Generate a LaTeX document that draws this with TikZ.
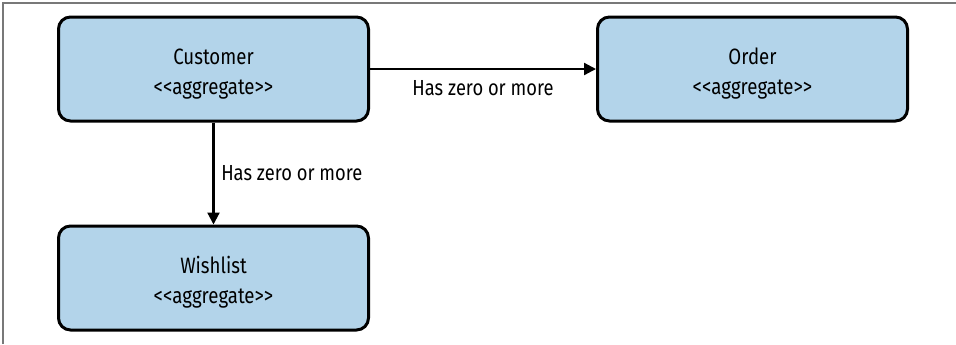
\documentclass[tikz,border=0pt]{standalone}
\usepackage{fontspec}
\setmainfont[FakeStretch=0.84]{Fira Sans}
\usepackage{tikz}
\usetikzlibrary{arrows.meta}
\definecolor{aggfill}{RGB}{179,212,234}
\definecolor{framegray}{RGB}{120,120,120}
\newcommand{\stereotype}[1]{{<}{<}#1{>}{>}}
\tikzset{
  aggbox/.style={draw, line width=1.5pt, fill=aggfill, rounded corners=6pt,
    minimum width=155pt, minimum height=52pt, align=center,
    text height=25pt, text depth=0pt,
    font=\fontsize{11.1}{15}\selectfont},
  rel/.style={line width=1.1pt, -{Triangle[length=6pt,width=6pt]}},
  rellabel/.style={font=\fontsize{10.9}{13}\selectfont}
}
\begin{document}
\begin{tikzpicture}[x=0.5pt,y=-0.5pt]
  \useasboundingbox (0,0) rectangle (956,344);
  \draw[framegray, line width=0.6pt] (3,344) -- (3,3) -- (956,3);
  \node[aggbox] (customer) at (213.5,69) {Customer\\\stereotype{aggregate}};
  \node[aggbox] (order) at (752.5,69) {Order\\\stereotype{aggregate}};
  \node[aggbox] (wishlist) at (213.5,278) {Wishlist\\\stereotype{aggregate}};
  \draw[rel] (customer.east) -- node[rellabel, below=2pt] {Has zero or more} (order.west);
  \draw[rel] (customer.south) -- node[rellabel, right=0pt] {Has zero or more} (wishlist.north);
\end{tikzpicture}
\end{document}
